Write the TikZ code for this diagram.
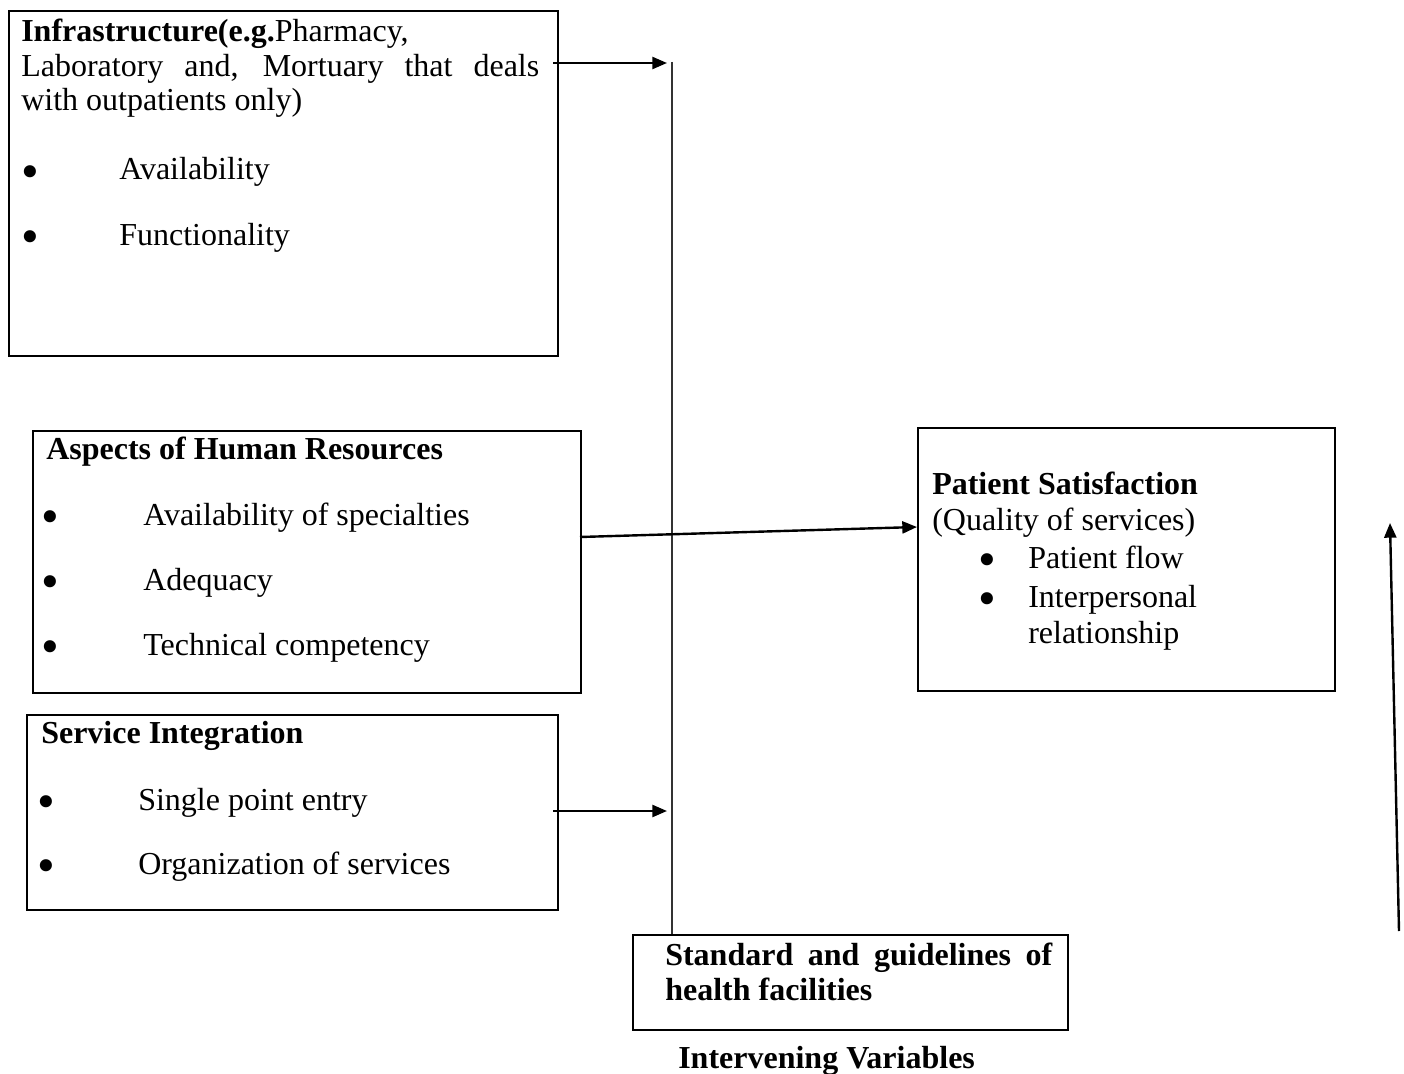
\documentclass[tikz,border=0pt]{standalone}
\usepackage{fontspec}
\setmainfont{Liberation Serif}
\usetikzlibrary{arrows.meta}
\begin{document}
\begin{tikzpicture}[x=0.75pt,y=-0.75pt,
  box/.style={draw,line width=1.5pt,anchor=north west,inner sep=0pt},
  txt/.style={anchor=base west,inner sep=0pt,font=\fontsize{24}{28}\selectfont},
  bul/.style={anchor=base,inner sep=0pt,text height=14pt,text depth=0pt,font=\fontsize{38}{40}\selectfont},
  arr/.style={line width=1.8pt,-{Triangle[length=11pt,width=9pt]}},
]
\useasboundingbox[fill=white] (0,0) rectangle (1404,1074);
% boxes
\node[box,minimum width=411.75pt,minimum height=258.75pt] (b1) at (8,10) {};
\node[box,minimum width=411pt,minimum height=196.5pt] (b2) at (32,430) {};
\node[box,minimum width=398.25pt,minimum height=146.25pt] (b3) at (26,714) {};
\node[box,minimum width=312.75pt,minimum height=197.25pt] (b4) at (917,427) {};
\node[box,minimum width=326.25pt,minimum height=71.25pt] (b5) at (632,934) {};
% box 1 text
\node[txt] (t11) at (21,42) {\textbf{Infrastructure(e.g.}Pharmacy,};
\node[txt] (t12) at (21,77) {\makebox[388.5pt][s]{Laboratory and, Mortuary that deals}};
\node[txt] (t13) at (21,111) {with outpatients only)};
\node[bul] (p11) at (30,188) {\textbullet};
\node[txt] (t14) at (119,180) {Availability};
\node[bul] (p12) at (30,253) {\textbullet};
\node[txt] (t15) at (119,245) {Functionality};
% box 2 text
\node[txt] (t21) at (46,459) {\textbf{Aspects of Human Resources}};
\node[bul] (p21) at (50,533) {\textbullet};
\node[txt] (t22) at (143,525) {Availability of specialties};
\node[bul] (p22) at (50,598) {\textbullet};
\node[txt] (t23) at (143,590) {Adequacy};
\node[bul] (p23) at (50,663) {\textbullet};
\node[txt] (t24) at (143,655) {Technical competency};
% box 3 text
\node[txt] (t31) at (41,743) {\textbf{Service Integration}};
\node[bul] (p31) at (46,818) {\textbullet};
\node[txt] (t32) at (138,810) {Single point entry};
\node[bul] (p32) at (46,882) {\textbullet};
\node[txt] (t33) at (138,874) {Organization of services};
% box 4 text
\node[txt] (t41) at (932,494) {\textbf{Patient Satisfaction}};
\node[txt] (t42) at (932,530) {(Quality of services)};
\node[bul] (p41) at (987,576) {\textbullet};
\node[txt] (t43) at (1028,568) {Patient flow};
\node[bul] (p42) at (987,615) {\textbullet};
\node[txt] (t44) at (1028,607) {Interpersonal};
\node[txt] (t45) at (1028,643) {relationship};
% box 5 text
\node[txt] (t51) at (665,965) {\textbf{\makebox[290.25pt][s]{Standard and guidelines of}}};
\node[txt] (t52) at (665,1000) {\textbf{health facilities}};
\node[txt] (t61) at (678,1068) {\textbf{Intervening Variables}};
% connectors
\coordinate (vtop) at (672,62);
\coordinate (a1s) at (553,63);
\coordinate (a1e) at (667,63);
\coordinate (a2s) at (580,537);
\coordinate (a2e) at (917,527);
\coordinate (a3s) at (553,811);
\coordinate (a3e) at (667,811);
\coordinate (a4s) at (1399,931);
\coordinate (a4e) at (1390,523);
\draw[line width=0.8pt,black!80] (vtop) -- (vtop |- b5.north);
\draw[arr] (a1s) -- (a1e);
\draw[arr] (a2s) -- (a2e);
\draw[arr] (a3s) -- (a3e);
\draw[arr] (a4s) -- (a4e);
\end{tikzpicture}
\end{document}
